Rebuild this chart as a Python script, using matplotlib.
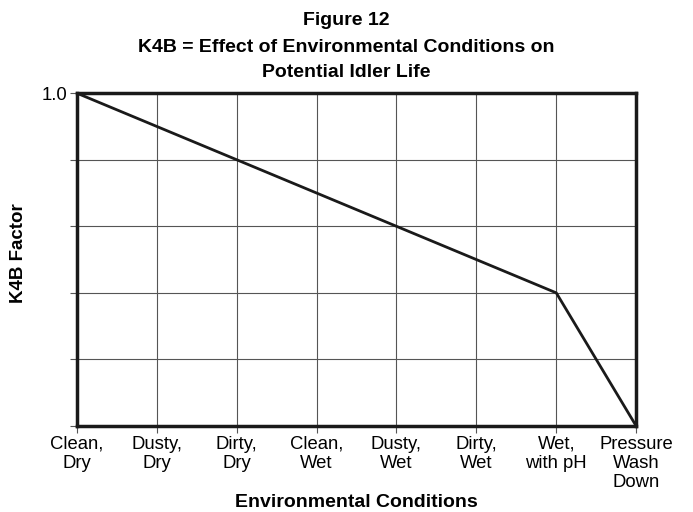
import matplotlib
matplotlib.use("Agg")
import matplotlib.pyplot as plt

plt.rcParams["font.family"] = ["Liberation Sans", "DejaVu Sans"]

conditions = ["Clean,\nDry", "Dusty,\nDry", "Dirty,\nDry", "Clean,\nWet",
              "Dusty,\nWet", "Dirty,\nWet", "Wet,\nwith pH",
              "Pressure\nWash\nDown"]
k4b = [1.0, 0.9, 0.8, 0.7, 0.6, 0.5, 0.4, 0.0]
y_ticks = [0.0, 0.2, 0.4, 0.6, 0.8, 1.0]
y_tick_labels = ["", "", "", "", "", "1.0"]

fig = plt.figure(figsize=(6.93, 5.12), dpi=100)
ax = fig.add_axes([0.111, 0.168, 0.807, 0.650])

x = list(range(len(conditions)))
ax.plot(x, k4b, color="#1a1a1a", lw=2.0, solid_joinstyle="miter", zorder=3)

ax.set_xlim(0, len(conditions) - 1)
ax.set_ylim(0, 1.0)
ax.set_xticks(x)
ax.set_xticklabels(conditions, fontsize=13.3, linespacing=1.15)
ax.set_yticks(y_ticks)
ax.set_yticklabels(y_tick_labels, fontsize=13.3)
ax.tick_params(direction="out", length=5, width=0.8, color="#555555", pad=2)
ax.grid(True, color="#555555", lw=0.8)
for s in ax.spines.values():
    s.set_linewidth(2.5)
    s.set_color("#1a1a1a")
ax.set_axisbelow(True)

ax.set_xlabel("Environmental Conditions", fontsize=14, fontweight="bold")
ax.xaxis.set_label_coords(0.5, -0.205)
ax.set_ylabel("K4B Factor", fontsize=13.5, fontweight="bold")
ax.yaxis.set_label_coords(-0.09, 0.52)

title_lines = ["Figure 12",
               "K4B = Effect of Environmental Conditions on",
               "Potential Idler Life"]
for line, yb in zip(title_lines, [0.951, 0.898, 0.850]):
    fig.text(0.5, yb, line, ha="center", va="baseline",
             fontsize=14, fontweight="bold")

fig.savefig("out.png", dpi=100, facecolor="white")
